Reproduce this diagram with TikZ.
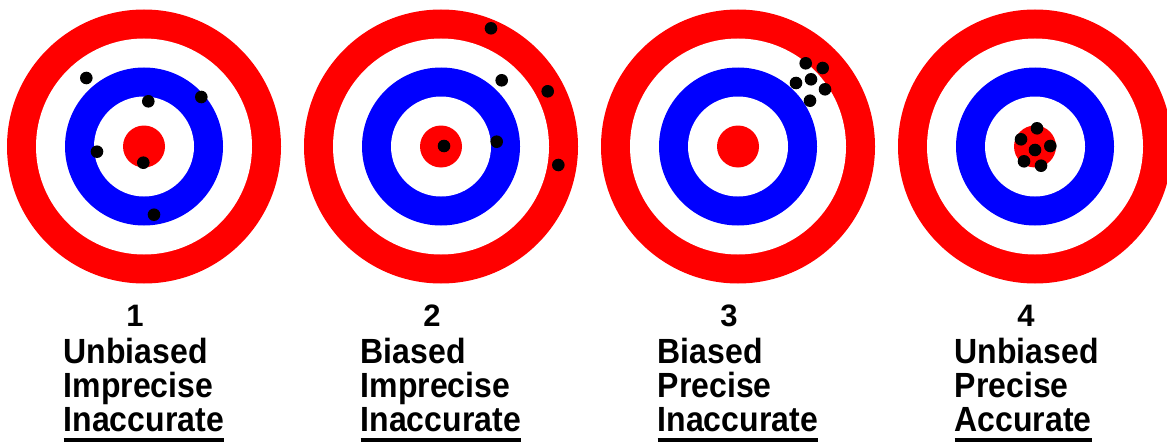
\documentclass[tikz,border=0pt]{standalone}
\usepackage{fontspec}
\setmainfont{Liberation Sans}
\usepackage{graphicx}
\usepackage{tikz}
\usetikzlibrary{positioning, calc}

\definecolor{ringred}{RGB}{255,0,0}
\definecolor{ringblue}{RGB}{0,0,255}
\newcommand{\ulbar}[1]{\setbox0\hbox{#1}\rlap{\rule[-10pt]{\wd0}{3.4pt}}\box0}
\newcommand{\tallword}[1]{\scalebox{0.97}[1.06]{#1}}

\begin{document}
\begin{tikzpicture}[
  x=1pt, y=-1pt,
  ring/.style={fill=#1},
  hit/.style={fill=black},
  numlbl/.style={inner sep=0pt, anchor=base, font=\fontsize{31}{31}\selectfont\bfseries},
  wordlbl/.style={inner sep=0pt, anchor=base west, font=\fontsize{33}{33}\selectfont\bfseries}
]
\useasboundingbox (0,0) rectangle (1167,444);
\clip (0,0) rectangle (1167,444);

% targets
\foreach \cx in {144,441,738,1035} {
  \fill[ring=ringred]  (\cx,146.5) circle (137pt);
  \fill[ring=white]    (\cx,146.5) circle (108pt);
  \fill[ring=ringblue] (\cx,146.5) circle (79pt);
  \fill[ring=white]    (\cx,146.5) circle (50pt);
  \fill[ring=ringred]  (\cx,146.5) circle (21pt);
}

% shots
\foreach \px/\py in {86.3/78, 148.3/101.3, 201.3/97, 97/151.7, 143.3/162.7, 154/214.7,
                     491/28.3, 501.7/80.3, 547.7/91.3, 496.7/141.7, 444/146, 558.3/165,
                     805.7/63.3, 822.7/68, 796/83, 811/79.3, 825/89.3, 810/100.7,
                     1037/128.3, 1021/139.3, 1050.3/146, 1035/150, 1024/161.3, 1041/165.7}
  \fill[hit] (\px,\py) circle (6.3pt);

% labels
\foreach \i/\cx/\bias/\prec/\acc in {1/144/Unbiased/Imprecise/Inaccurate,
                                     2/441/Biased/Imprecise/Inaccurate,
                                     3/738/Biased/Precise/Inaccurate,
                                     4/1035/Unbiased/Precise/Accurate} {
  \node[numlbl] (num\i) at (\cx-9,326.5) {\i};
  \node[wordlbl] (bias\i) at (\cx-80.5,363.5) {\tallword{\bias}};
  \node[wordlbl] (prec\i) at (\cx-80.5,397) {\tallword{\prec}};
  \node[wordlbl] (acc\i) at (\cx-80.5,431) {\tallword{\ulbar{\acc}}};
}
\end{tikzpicture}
\end{document}
